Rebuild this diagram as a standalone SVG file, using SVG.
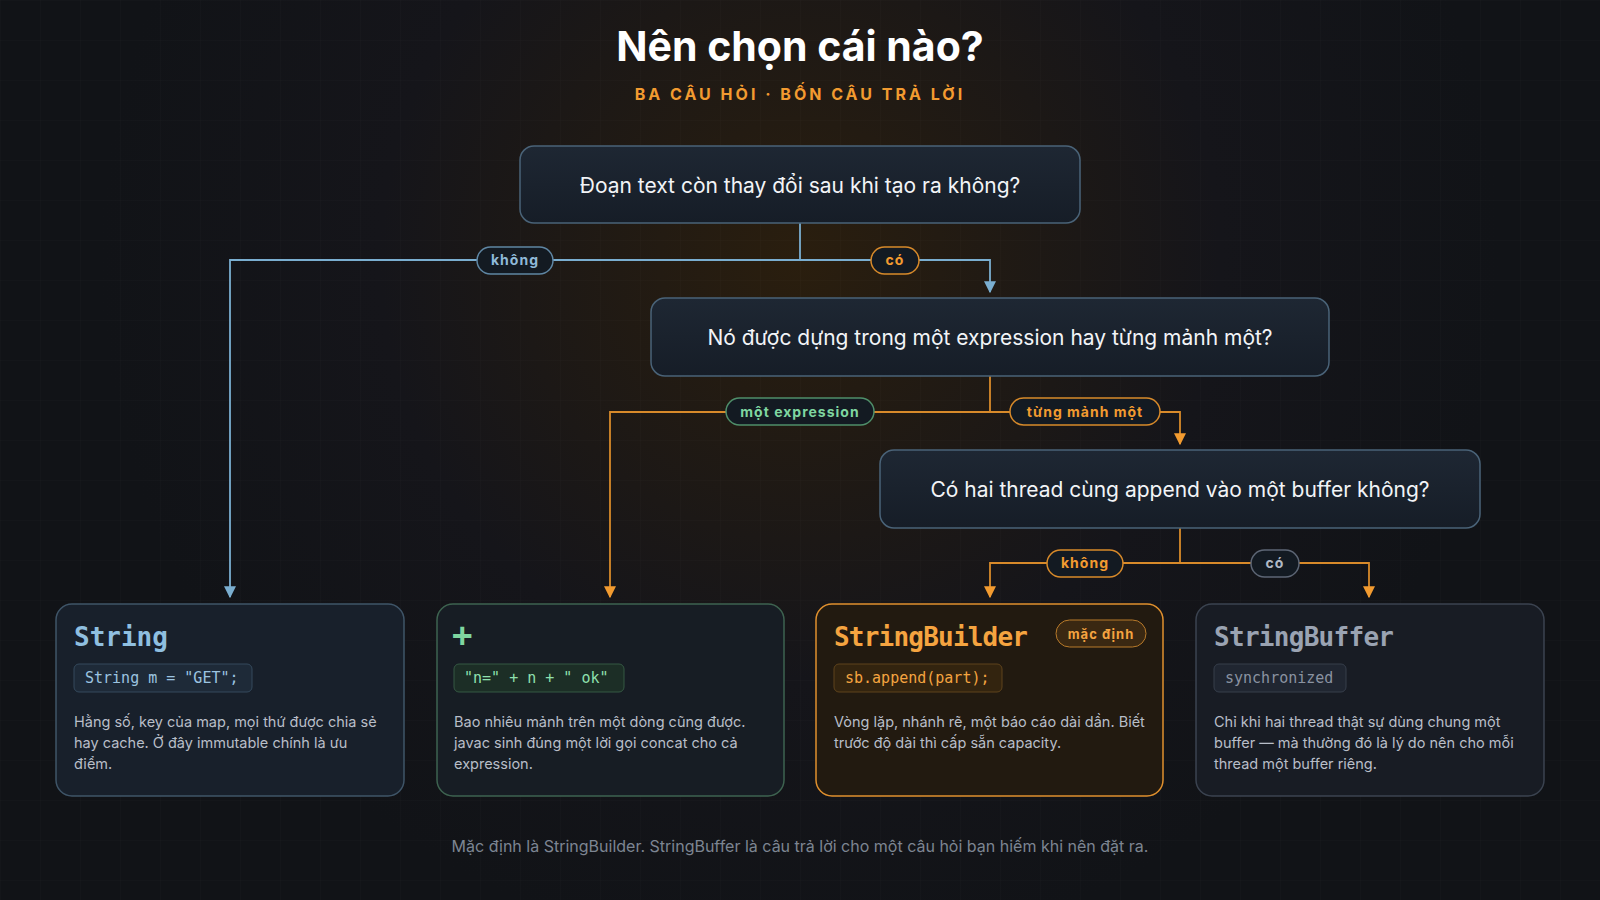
<svg xmlns="http://www.w3.org/2000/svg" width="1600" height="900" viewBox="0 0 1600 900">
<defs>
<radialGradient id="glow" cx="800" cy="260" r="700" gradientUnits="userSpaceOnUse">
<stop offset="0" stop-color="#2a1e0e"/><stop offset="0.6" stop-color="#15151a"/><stop offset="1" stop-color="#111317"/>
</radialGradient>
<pattern id="grid" width="40" height="40" patternUnits="userSpaceOnUse"><path d="M40 0H0V40" fill="none" stroke="#ffffff" stroke-opacity="0.025"/></pattern>
<linearGradient id="qg" x1="0" y1="0" x2="0" y2="1"><stop offset="0" stop-color="#1e2733"/><stop offset="1" stop-color="#161d27"/></linearGradient>
<marker id="ab" viewBox="0 0 10 10" refX="5" refY="9" markerWidth="12" markerHeight="12" markerUnits="userSpaceOnUse"><path d="M0 0L10 0L5 10Z" fill="#7aaed0"/></marker>
<marker id="ao" viewBox="0 0 10 10" refX="5" refY="9" markerWidth="12" markerHeight="12" markerUnits="userSpaceOnUse"><path d="M0 0L10 0L5 10Z" fill="#f29b30"/></marker>
</defs>
<style>
text{font-family:"Inter","Liberation Sans",sans-serif}
.mono{font-family:"DejaVu Sans Mono","Liberation Mono",monospace}
.q rect{fill:url(#qg);stroke:#4a6378;stroke-width:1.5}
.q text{fill:#f2f4f7;font-size:21px;text-anchor:middle}
.lb{stroke:#7aaed0;stroke-width:1.8;fill:none}
.lo{stroke:#d88a2a;stroke-width:1.8;fill:none}
.pill{fill:#131a22;stroke-width:1.5}
.pt{font-size:14px;font-weight:bold;text-anchor:middle;letter-spacing:1px}
.card{stroke-width:1.5}
.ct{font-size:26px;font-weight:bold}
.code{font-size:15px}
.desc{fill:#b8bec8;font-size:14.5px}
</style>
<rect width="1600" height="900" fill="url(#glow)"/>
<rect width="1600" height="900" fill="url(#grid)"/>
<text x="800" y="61" font-size="41" font-weight="bold" fill="#ffffff" text-anchor="middle">Nên chọn cái nào?</text>
<text x="800" y="100" font-size="16" font-weight="bold" fill="#f29b30" text-anchor="middle" letter-spacing="3">BA CÂU HỎI · BỐN CÂU TRẢ LỜI</text>

<g id="connectors">
<path class="lb" d="M800 223V260H230V597" marker-end="url(#ab)"/>
<path class="lb" d="M800 260H990V292" marker-end="url(#ab)"/>
<path class="lo" d="M990 376V412H610V597" marker-end="url(#ao)"/>
<path class="lo" d="M990 412H1180V444" marker-end="url(#ao)"/>
<path class="lo" d="M1180 528V563H990V597" marker-end="url(#ao)"/>
<path class="lo" d="M1180 563H1369V597" marker-end="url(#ao)"/>
<g>
<rect class="pill" x="477" y="247" width="76" height="27" rx="13.5" stroke="#5f86a3"/><text class="pt" x="515" y="265" fill="#8fb9d8">không</text>
<rect class="pill" x="871" y="247" width="48" height="27" rx="13.5" stroke="#d88a2a"/><text class="pt" x="895" y="265" fill="#f29b30">có</text>
<rect class="pill" x="726" y="398" width="148" height="27" rx="13.5" stroke="#4f8f6a"/><text class="pt" x="800" y="417" fill="#7fd6a0">một expression</text>
<rect class="pill" x="1010" y="398" width="150" height="27" rx="13.5" stroke="#d88a2a"/><text class="pt" x="1085" y="417" fill="#f29b30">từng mảnh một</text>
<rect class="pill" x="1047" y="550" width="76" height="27" rx="13.5" stroke="#d88a2a"/><text class="pt" x="1085" y="568" fill="#f29b30">không</text>
<rect class="pill" x="1251" y="550" width="48" height="27" rx="13.5" stroke="#5d6675"/><text class="pt" x="1275" y="568" fill="#b0b8c4">có</text>
</g>
</g>

<g id="q1" class="q"><rect x="520" y="146" width="560" height="77" rx="14"/><text x="800" y="193">Đoạn text còn thay đổi sau khi tạo ra không?</text></g>
<g id="q2" class="q"><rect x="651" y="298" width="678" height="78" rx="14"/><text x="990" y="345">Nó được dựng trong một expression hay từng mảnh một?</text></g>
<g id="q3" class="q"><rect x="880" y="450" width="600" height="78" rx="14"/><text x="1180" y="497">Có hai thread cùng append vào một buffer không?</text></g>

<g id="c-string">
<rect class="card" x="56" y="604" width="348" height="192" rx="16" fill="#18202b" stroke="#3f5568"/>
<text class="ct mono" x="74" y="646" fill="#8fbfe0">String</text>
<rect x="74" y="664" width="178" height="28" rx="5" fill="#1e2a38" stroke="#34495c"/>
<text class="code mono" x="85" y="683" fill="#9cc4e0">String m = "GET";</text>
<text class="desc" x="74" y="727">Hằng số, key của map, mọi thứ được chia sẻ</text>
<text class="desc" x="74" y="748">hay cache. Ở đây immutable chính là ưu</text>
<text class="desc" x="74" y="769">điểm.</text>
</g>
<g id="c-plus">
<rect class="card" x="437" y="604" width="347" height="192" rx="16" fill="#171d24" stroke="#3e6350"/>
<text class="mono" x="452" y="647" fill="#7fd6a0" font-size="34" font-weight="bold">+</text>
<rect x="454" y="664" width="170" height="28" rx="5" fill="#1c2e26" stroke="#355843"/>
<text class="code mono" x="464" y="683" fill="#8fe0ae">"n=" + n + " ok"</text>
<text class="desc" x="454" y="727">Bao nhiêu mảnh trên một dòng cũng được.</text>
<text class="desc" x="454" y="748">javac sinh đúng một lời gọi concat cho cả</text>
<text class="desc" x="454" y="769">expression.</text>
</g>
<g id="c-sb">
<rect class="card" x="816" y="604" width="347" height="192" rx="16" fill="#221a10" stroke="#e0902e"/>
<text class="ct mono" x="834" y="646" fill="#f5a440" textLength="194">StringBuilder</text>
<rect x="1056" y="620" width="90" height="27" rx="13.5" fill="#3a2812" stroke="#b87a2a"/>
<text x="1101" y="639" font-size="13" font-weight="bold" fill="#f5a440" text-anchor="middle" letter-spacing="1">mặc định</text>
<rect x="834" y="664" width="168" height="28" rx="5" fill="#33240f" stroke="#5e431c"/>
<text class="code mono" x="845" y="683" fill="#f5a440">sb.append(part);</text>
<text class="desc" x="834" y="727">Vòng lặp, nhánh rẽ, một báo cáo dài dần. Biết</text>
<text class="desc" x="834" y="748">trước độ dài thì cấp sẵn capacity.</text>
</g>
<g id="c-sbuf">
<rect class="card" x="1196" y="604" width="348" height="192" rx="16" fill="#181c24" stroke="#3b4350"/>
<text class="ct mono" x="1214" y="646" fill="#9aa3b2" textLength="180">StringBuffer</text>
<rect x="1214" y="664" width="132" height="28" rx="5" fill="#202631" stroke="#363e4b"/>
<text class="code mono" x="1225" y="683" fill="#8a93a1">synchronized</text>
<text class="desc" x="1214" y="727">Chỉ khi hai thread thật sự dùng chung một</text>
<text class="desc" x="1214" y="748">buffer — mà thường đó là lý do nên cho mỗi</text>
<text class="desc" x="1214" y="769">thread một buffer riêng.</text>
</g>
<text x="800" y="852" font-size="16" fill="#7d8592" text-anchor="middle">Mặc định là StringBuilder. StringBuffer là câu trả lời cho một câu hỏi bạn hiếm khi nên đặt ra.</text>
</svg>
